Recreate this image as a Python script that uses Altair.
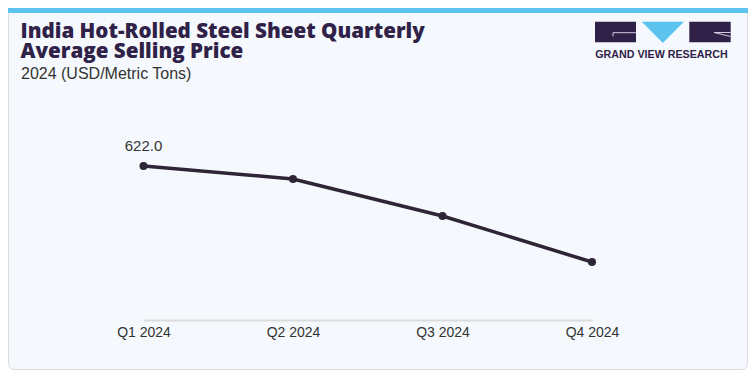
import altair as alt
import pandas as pd

# ---- data ----
quarters = ["Q1 2024", "Q2 2024", "Q3 2024", "Q4 2024"]
prices = [622.0, 609.0, 572.0, 526.0]
labelled = ["Q1 2024"]

title_lines = ["India Hot-Rolled Steel Sheet Quarterly", "Average Selling Price"]
subtitle = "2024 (USD/Metric Tons)"
brand = "GRAND VIEW RESEARCH"

df = pd.DataFrame({"quarter": quarters, "price": prices})
one = pd.DataFrame({"k": [0]})

DARK = "#2e2536"
PURPLE = "#2f2148"
BLUE = "#5cc4ef"
CARD = "#f5f9fd"
LABEL = "#333333"
FONT = "Liberation Sans"

# ---- scales ----
x_enc = alt.X(
    "quarter:O",
    sort=quarters,
    scale=alt.Scale(type="point", range=[66.5, 515], padding=0),
    axis=alt.Axis(
        title=None, labelAngle=0, ticks=False, tickSize=0, grid=False,
        domainColor="#dcdcdc", domainWidth=2, labelFont=FONT,
        labelFontSize=14, labelColor=LABEL, labelPadding=5, zindex=1,
    ),
)
y_enc = alt.Y("price:Q", scale=alt.Scale(domain=[468, 700], nice=False, zero=False), axis=None)

# ---- card / decorations ----
card = alt.Chart(one).mark_rect(
    fill=CARD, stroke="#d8dadd", strokeWidth=1, cornerRadius=6
).encode(x=alt.value(-68.5), x2=alt.value(670.5), y=alt.value(-79.5), y2=alt.value(281.5))

topbar = alt.Chart(one).mark_rect(fill=BLUE).encode(
    x=alt.value(-69), x2=alt.value(671), y=alt.value(-80), y2=alt.value(-75)
)

box1 = alt.Chart(one).mark_rect(fill=PURPLE).encode(
    x=alt.value(518), x2=alt.value(559), y=alt.value(-66.3), y2=alt.value(-45.7)
)
box3 = alt.Chart(one).mark_rect(fill=PURPLE).encode(
    x=alt.value(612.3), x2=alt.value(653.7), y=alt.value(-66.3), y2=alt.value(-45.7)
)
tri = alt.Chart(one).mark_point(
    shape="M-1,-0.5 L1,-0.5 L0,0.5 Z", filled=True, fill=BLUE, opacity=1, strokeWidth=0
).encode(x=alt.value(585.85), y=alt.value(-55.65), size=alt.value(1789))

g1 = alt.Chart(one).mark_rule(color="#cfc9dc", strokeWidth=1).encode(
    x=alt.value(536), x2=alt.value(559), y=alt.value(-55.3), y2=alt.value(-55.3)
)
g2 = alt.Chart(one).mark_rule(color="#cfc9dc", strokeWidth=1).encode(
    x=alt.value(536), x2=alt.value(536), y=alt.value(-55.3), y2=alt.value(-51.5)
)
r1 = alt.Chart(one).mark_rule(color="#cfc9dc", strokeWidth=1).encode(
    x=alt.value(637), x2=alt.value(653.7), y=alt.value(-55.5), y2=alt.value(-51.5)
)
r2 = alt.Chart(one).mark_rule(color="#cfc9dc", strokeWidth=1).encode(
    x=alt.value(637), x2=alt.value(653.7), y=alt.value(-55.5), y2=alt.value(-55.5)
)

brand_txt = alt.Chart(pd.DataFrame({"t": [brand]})).mark_text(
    font=FONT, fontSize=10.7, fontWeight="bold", color=PURPLE, align="center", baseline="alphabetic"
).encode(x=alt.value(584.5), y=alt.value(-30.3), text="t:N")

title_df = pd.DataFrame({"t": ["\n".join(title_lines)]})
title_txt = alt.Chart(title_df).mark_text(
    font="Open Sans", fontSize=20.6, fontWeight=800, color=PURPLE, align="left",
    baseline="alphabetic", lineBreak="\n", lineHeight=20.5,
).encode(x=alt.value(-56.5), y=alt.value(-50.5), text="t:N")
st = alt.Chart(pd.DataFrame({"t": [subtitle]})).mark_text(
    font=FONT, fontSize=16, color=LABEL, align="left", baseline="alphabetic"
).encode(x=alt.value(-56), y=alt.value(-9.5), text="t:N")

# ---- data layers ----
base = alt.Chart(df).encode(x=x_enc, y=y_enc)
line = base.mark_line(color=DARK, strokeWidth=3.5)
pts = base.mark_circle(color=DARK, size=65, opacity=1)
lbl = base.transform_filter(
    alt.FieldOneOfPredicate(field="quarter", oneOf=labelled)
).mark_text(font=FONT, fontSize=15, color=LABEL, dy=-15, baseline="alphabetic").encode(
    text=alt.Text("price:Q", format=".1f")
)

chart = alt.layer(
    card, topbar, box1, box3, tri, g1, g2, r1, r2, brand_txt, title_txt, st, line, pts, lbl
).properties(
    width=595, height=232,
    autosize=alt.AutoSizeParams(type="none"),
    padding={"left": 69, "top": 80, "right": 76, "bottom": 50},
    background="white",
).configure_view(stroke=None)

chart.save("out.html", embed_options={"renderer": "svg", "actions": False})
